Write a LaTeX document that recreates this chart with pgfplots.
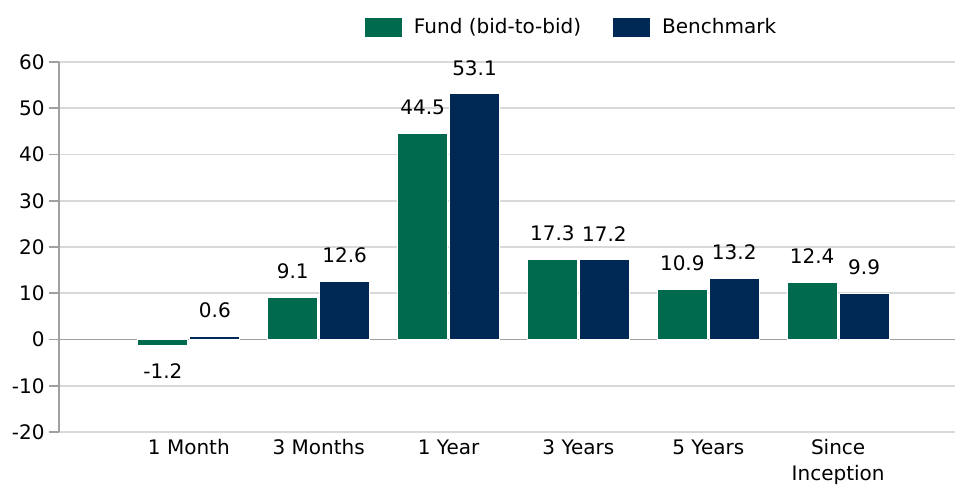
\documentclass[border=0pt]{standalone}
\usepackage{pgfplots}
\pgfplotsset{compat=1.18}
\usepackage{fontspec}
\setmainfont{DejaVu Sans}
\definecolor{fund}{RGB}{0,106,78}
\definecolor{bench}{RGB}{0,40,85}
\definecolor{gridc}{RGB}{217,217,217}
\definecolor{axc}{RGB}{160,160,160}
\begin{document}
\begin{tikzpicture}[font=\fontsize{10}{13}\selectfont]
\useasboundingbox (-29.5pt,-26pt) rectangle (449pt,216pt);
\begin{axis}[
  at={(0,0)}, anchor=south west,
  scale only axis, width=448pt, height=185pt,
  xmin=0, xmax=6.9, ymin=-20, ymax=60,
  ytick={-20,-10,...,60},
  xtick={1,...,6},
  xticklabels={\strut 1 Month,\strut 3 Months,\strut 1 Year,\strut 3 Years,\strut 5 Years,\strut Since\\\strut Inception},
  xticklabel style={align=center, inner sep=0pt, yshift=3.3pt},
  yticklabel style={inner sep=0pt, xshift=-2pt},
  /pgf/number format/assume math mode=true,
  axis y line*=left, axis x line*=bottom,
  x axis line style={draw=none},
  y axis line style={draw=axc, line width=0.8pt},
  xtick style={draw=none},
  ytick style={draw=axc, line width=0.8pt},
  tick align=outside,
  major tick length=5pt,
  ymajorgrids, grid style={gridc, line width=0.8pt},
  extra y ticks={0}, extra y tick labels={},
  extra y tick style={grid style={axc, line width=0.8pt}, ytick style={draw=none}},
  ybar, bar width=0.3846,
  nodes near coords, nodes near coords align={vertical},
  every node near coord/.append style={inner xsep=0pt, inner ysep=9pt, color=black},
  legend columns=2,
  legend style={at={(0.3404,1)}, anchor=west, yshift=17.5pt, draw=none, inner sep=0pt, outer sep=0pt,
    nodes={inner xsep=0pt, inner ysep=1pt},
    /tikz/every odd column/.append style={column sep=5.5pt},
    /tikz/every even column/.append style={column sep=15.5pt}},
  legend image code/.code={\fill[#1] (0pt,-5pt) rectangle (19pt,5pt);},
]
\addplot[fill=fund, draw=white, line width=0.5pt, bar shift=-0.2] coordinates {(1,-1.2) (2,9.1) (3,44.5) (4,17.3) (5,10.9) (6,12.4)};
\addplot[fill=bench, draw=white, line width=0.5pt, bar shift=0.2] coordinates {(1,0.6) (2,12.6) (3,53.1) (4,17.2) (5,13.2) (6,9.9)};
\legend{Fund (bid-to-bid), Benchmark}
\end{axis}
\end{tikzpicture}
\end{document}
